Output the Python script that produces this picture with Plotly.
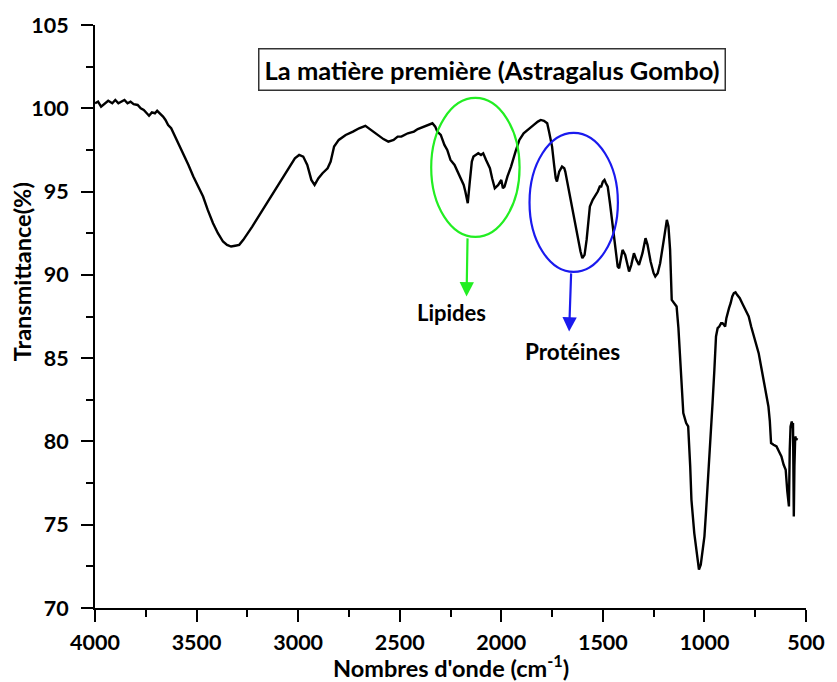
import plotly.graph_objects as go

# FTIR spectrum of the raw material (wavenumber in cm-1, transmittance in %)
wavenumber = [
    4000, 3985, 3970, 3952, 3935, 3915, 3900, 3885, 3870, 3855, 3840, 3825, 3810, 3790,
    3775, 3760, 3745, 3734, 3720, 3705, 3694, 3680, 3665, 3653, 3640, 3625, 3613, 3595,
    3580, 3565, 3540, 3516, 3490, 3468, 3445, 3419, 3395, 3370, 3350, 3330, 3310, 3290,
    3270, 3250, 3226, 3200, 3170, 3145, 3120, 3090, 3065, 3040, 3016, 2995, 2975, 2955,
    2935, 2919, 2900, 2880, 2855, 2840, 2823, 2800, 2766, 2730, 2700, 2669, 2640, 2610,
    2580, 2556, 2530, 2510, 2492, 2460, 2430, 2411, 2380, 2360, 2339, 2325, 2315, 2298,
    2280, 2266, 2250, 2230, 2218, 2201, 2185, 2177, 2165, 2155, 2145, 2137, 2125, 2113,
    2100, 2089, 2075, 2056, 2045, 2032, 2015, 2000, 1992, 1984, 1970, 1952, 1930, 1911,
    1890, 1863, 1840, 1820, 1806, 1790, 1774, 1765, 1750, 1740, 1732, 1726, 1715, 1701,
    1690, 1685, 1670, 1653, 1637, 1621, 1610, 1601, 1590, 1580, 1570, 1564, 1550, 1540,
    1525, 1515, 1508, 1500, 1492, 1485, 1476, 1465, 1451, 1440, 1427, 1420, 1403, 1390,
    1379, 1371, 1360, 1347, 1335, 1322, 1305, 1290, 1280, 1265, 1250, 1242, 1230, 1218,
    1200, 1185, 1177, 1169, 1161, 1150, 1137, 1128, 1121, 1110, 1104, 1090, 1080, 1070,
    1064, 1050, 1035, 1027, 1018, 1008, 1000, 992, 984, 976, 968, 960, 951, 943, 935,
    927, 918, 911, 904, 898, 892, 887, 879, 871, 863, 855, 847, 839, 826, 814, 798, 782,
    770, 757, 745, 733, 721, 709, 697, 685, 678, 672, 660, 645, 633, 621, 610, 600, 592,
    584, 580, 576, 570, 566, 564, 561, 560, 557, 553, 548, 543,
]
transmittance = [
    100.3, 100.4, 100.1, 100.3, 100.45, 100.3, 100.5, 100.3, 100.4, 100.5, 100.3, 100.4, 100.25, 100.2,
    100.0, 99.9, 99.7, 99.55, 99.75, 99.7, 99.85, 99.7, 99.5, 99.3, 99.0, 98.8, 98.5, 98.0,
    97.6, 97.3, 96.6, 95.9, 95.2, 94.7, 93.9, 93.1, 92.5, 92.0, 91.8, 91.7, 91.75, 91.8,
    92.1, 92.5, 92.9, 93.4, 94.0, 94.5, 95.0, 95.6, 96.1, 96.6, 97.0, 97.2, 97.1, 96.6,
    95.7, 95.4, 95.8, 96.1, 96.4, 96.8, 97.7, 98.1, 98.4, 98.6, 98.8, 98.95, 98.7, 98.4,
    98.15, 98.0, 98.1, 98.3, 98.3, 98.5, 98.6, 98.75, 98.9, 98.95, 99.1, 98.9, 98.6, 98.4,
    97.8, 97.5, 96.9, 96.6, 96.3, 95.9, 95.4, 95.0, 94.3, 95.6, 96.8, 97.1, 97.2, 97.3,
    97.2, 97.3, 96.9, 96.4, 95.8, 95.2, 95.4, 95.7, 95.2, 95.3, 95.9, 96.5, 97.4, 98.1,
    98.5, 98.8, 99.0, 99.2, 99.3, 99.25, 99.1, 98.6, 97.7, 96.6, 95.8, 95.6, 96.2, 96.5,
    96.4, 96.2, 95.2, 94.1, 93.1, 92.1, 91.4, 91.0, 91.2, 92.1, 93.3, 94.1, 94.5, 94.7,
    95.0, 95.3, 95.3, 95.6, 95.7, 95.5, 95.3, 94.3, 92.9, 91.8, 90.5, 90.4, 91.5, 91.2,
    90.5, 90.2, 90.6, 91.3, 90.9, 90.6, 91.3, 92.2, 91.8, 90.8, 90.1, 89.9, 90.1, 90.7,
    92.1, 93.3, 92.9, 91.5, 88.5, 88.3, 88.1, 86.8, 85.3, 83.0, 81.7, 81.1, 80.9, 78.5,
    76.5, 74.5, 72.8, 72.3, 72.6, 73.5, 74.3, 75.8, 77.3, 79.0, 80.9, 82.3, 84.3, 86.3, 86.8,
    86.9, 87.1, 87.1, 87.0, 86.9, 87.4, 87.7, 88.0, 88.3, 88.7, 88.9, 88.95, 88.8, 88.6, 88.3, 87.9, 87.5,
    86.9, 86.3, 85.8, 85.3, 84.5, 83.7, 82.9, 82.1, 81.2, 79.9, 79.8, 79.7, 79.4, 79.1, 78.6, 78.3, 77.0,
    76.1, 79.5, 80.9, 81.2, 80.8, 81.1, 77.0, 75.5, 78.5, 80.3, 80.1, 80.2,
]

x_ticks = [4000, 3500, 3000, 2500, 2000, 1500, 1000, 500]
y_ticks = [70, 75, 80, 85, 90, 95, 100, 105]

title_text = "La matière première (Astragalus Gombo)"
x_title = "Nombres d'onde (cm<sup>-1</sup>)"
y_title = "Transmittance(%)"

FONT = "Lato"
BLACK = "#000000"
GREEN = "#22ee22"
BLUE = "#1a1aee"

fig = go.Figure()
fig.add_trace(go.Scatter(
    x=wavenumber, y=transmittance, mode="lines",
    line=dict(color=BLACK, width=2.4), showlegend=False, hoverinfo="skip",
))

axis_common = dict(
    showgrid=False, zeroline=False, showline=True, linecolor=BLACK, linewidth=2,
    ticks="outside", ticklen=12, tickwidth=2, tickcolor=BLACK,
    tickfont=dict(family=FONT, size=21.5, color=BLACK, weight="bold"),
)

fig.update_xaxes(
    range=[4000, 500], tickvals=x_ticks, ticktext=[str(v) for v in x_ticks],
    minor=dict(ticks="outside", ticklen=7, tickwidth=2, tickcolor=BLACK, dtick=250, tick0=500),
    ticklabelstandoff=2,
    **axis_common,
)
fig.update_yaxes(
    range=[70, 105], tickvals=y_ticks, ticktext=[str(v) for v in y_ticks],
    minor=dict(ticks="outside", ticklen=7, tickwidth=2, tickcolor=BLACK, dtick=2.5, tick0=70),
    ticklabelstandoff=8,
    **axis_common,
)

# Highlighted absorption regions
fig.add_shape(type="circle", xref="x", yref="y", x0=2345, x1=1910, y0=92.28, y1=100.62,
              line=dict(color=GREEN, width=2.2))
fig.add_shape(type="circle", xref="x", yref="y", x0=1861, x1=1426, y0=90.18, y1=98.52,
              line=dict(color=BLUE, width=2.2))

annotations = [
    dict(x=2171, y=88.7, ax=2166, ay=92.28, xref="x", yref="y", axref="x", ayref="y",
         showarrow=True, arrowhead=2, arrowsize=1.3, arrowwidth=2.2, arrowcolor=GREEN, text=""),
    dict(x=1666, y=86.6, ax=1656, ay=90.18, xref="x", yref="y", axref="x", ayref="y",
         showarrow=True, arrowhead=2, arrowsize=1.3, arrowwidth=2.2, arrowcolor=BLUE, text=""),
    dict(x=2243, y=87.72, xref="x", yref="y", text="Lipides", showarrow=False,
         font=dict(family=FONT, size=22, color=BLACK, weight="bold")),
    dict(x=1648, y=85.38, xref="x", yref="y", text="Protéines", showarrow=False,
         font=dict(family=FONT, size=22.5, color=BLACK, weight="bold")),
    dict(x=2045, y=102.33, xref="x", yref="y", text=title_text, showarrow=False,
         font=dict(family=FONT, size=25.5, color=BLACK, weight="bold"),
         bordercolor="#333333", borderwidth=1.5, borderpad=5, bgcolor="white"),
    dict(x=0.5, y=0, xref="paper", yref="paper", yshift=-58, text=x_title, showarrow=False,
         yanchor="middle", font=dict(family=FONT, size=23.5, color=BLACK, weight="bold")),
    dict(x=0, y=0.576, xref="paper", yref="paper", xshift=-73, text=y_title, showarrow=False,
         textangle=-90, xanchor="center", yanchor="middle",
         font=dict(family=FONT, size=23.5, color=BLACK, weight="bold")),
]
fig.update_layout(
    width=837, height=682,
    margin=dict(l=95, r=19, t=25, b=74),
    plot_bgcolor="white", paper_bgcolor="white",
    annotations=annotations,
)

fig.write_html("out.html")
